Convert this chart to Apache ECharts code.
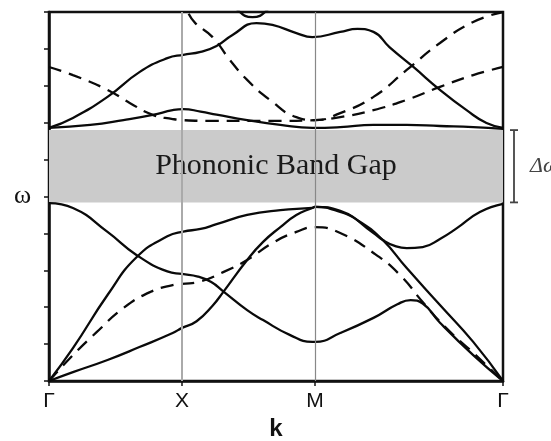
<!DOCTYPE html>
<html>
<head>
<meta charset="utf-8">
<script src="https://cdn.jsdelivr.net/npm/echarts@6/dist/echarts.min.js"></script>
<style>html,body{margin:0;padding:0;background:#fff}#c{width:551px;height:441px}</style>
</head>
<body>
<div id="c"></div>
<script>
// ---- data ----
const kTicks = [0, 1, 2, 3.414];
const kLabels = ['Γ', 'X', 'M', 'Γ'];
const gapLow = 4.84;
const gapHigh = 6.8;
const gapText = 'Phononic Band Gap';

// solid bands [k, omega]
const bandA = [[0,0],[0.18,0.24],[0.44,0.57],[0.68,0.92],[0.93,1.30],[1.0,1.44],[1.11,1.62],[1.23,2.04],[1.31,2.41],[1.49,3.28],[1.61,3.77],[1.74,4.17],[1.86,4.50],[1.98,4.69],[2.0,4.72],[2.19,4.58],[2.34,4.31],[2.51,3.82],[2.69,3.06],[2.94,2.06],[3.19,1.06],[3.414,0]];
const bandC = [[0,0],[0.18,0.89],[0.44,2.33],[0.66,3.36],[0.89,3.92],[1.01,4.05],[1.14,4.12],[1.26,4.25],[1.49,4.50],[1.74,4.63],[1.98,4.69],[2.0,4.72],[2.19,4.61],[2.44,4.01],[2.51,3.82],[2.60,3.66],[2.69,3.60],[2.81,3.63],[2.94,3.85],[3.07,4.15],[3.24,4.58],[3.414,4.80]];
const bandD = [[0,4.82],[0.18,4.69],[0.44,4.04],[0.66,3.41],[0.89,2.97],[1.0,2.90],[1.12,2.83],[1.22,2.68],[1.31,2.43],[1.49,1.92],[1.61,1.65],[1.81,1.25],[1.98,1.06],[2.0,1.06],[2.19,1.30],[2.44,1.71],[2.62,2.08],[2.72,2.19],[2.81,2.10],[2.94,1.58],[3.19,0.70],[3.414,0]];
const bandF = [[0,6.86],[0.18,7.13],[0.44,7.70],[0.68,8.37],[0.89,8.75],[1.01,8.84],[1.14,8.92],[1.26,9.08],[1.38,9.38],[1.56,9.70],[1.68,9.65],[1.86,9.43],[1.98,9.32],[2.19,9.46],[2.32,9.54],[2.44,9.46],[2.56,9.05],[2.74,8.51],[2.94,7.89],[3.14,7.34],[3.29,6.99],[3.414,6.86]];
const bandG = [[0,6.86],[0.31,6.94],[0.56,7.07],[0.78,7.21],[0.93,7.34],[1.01,7.37],[1.14,7.30],[1.26,7.22],[1.49,7.07],[1.74,6.94],[1.98,6.86],[2.19,6.88],[2.44,6.94],[2.69,6.94],[2.94,6.91],[3.19,6.88],[3.414,6.83]];
const bandTop = [[1.30,10.6],[1.42,10.05],[1.53,9.86],[1.64,10.05],[1.76,10.6]];
// dashed bands
const dashE = [[0,0],[0.18,0.70],[0.36,1.33],[0.56,1.98],[0.76,2.41],[0.93,2.60],[1.0,2.63],[1.14,2.70],[1.31,2.95],[1.49,3.28],[1.68,3.74],[1.86,4.04],[2.0,4.17],[2.19,4.01],[2.44,3.47],[2.64,2.87],[2.81,2.14],[2.98,1.46],[3.20,0.73],[3.414,0]];
const dashH = [[0,8.51],[0.18,8.29],[0.44,7.89],[0.61,7.53],[0.78,7.21],[0.93,7.10],[1.0,7.07],[1.23,7.05],[1.74,7.05],[2.0,7.07],[2.19,7.15],[2.44,7.34],[2.69,7.62],[2.94,7.97],[3.19,8.29],[3.414,8.51]];
const dashI = [[1.05,9.95],[1.10,9.70],[1.23,9.32],[1.36,8.70],[1.49,8.16],[1.66,7.62],[1.86,7.15],[2.0,7.07],[2.19,7.26],[2.44,7.70],[2.69,8.43],[2.94,9.16],[3.19,9.73],[3.414,10.0]];

const solidBands = [bandA, bandC, bandD, bandF, bandG, bandTop];
const dashedBands = [dashE, dashH, dashI];

// ---- chart ----
const chart = echarts.init(document.getElementById('c'), null, {renderer: 'canvas'});
const series = [];
series.push({
  type: 'line', data: [], silent: true,
  markArea: {
    silent: true,
    itemStyle: {color: '#cbcbcb'},
    label: {show: true, position: 'inside', color: '#1a1a1a', fontFamily: 'Liberation Serif', fontSize: 30},
    data: [[{yAxis: gapLow, xAxis: kTicks[0], name: gapText}, {yAxis: gapHigh, xAxis: kTicks[3]}]]
  },
  markLine: {
    silent: true, symbol: 'none', label: {show: false},
    data: [
      {xAxis: kTicks[1], lineStyle: {color: '#aaaaaa', width: 2, type: 'solid'}},
      {xAxis: kTicks[2], lineStyle: {color: '#888888', width: 1.2, type: 'solid'}}
    ]
  }
});
solidBands.forEach(d => series.push({
  type: 'line', data: d, smooth: 0.5, symbol: 'none', clip: true,
  lineStyle: {color: '#0a0a0a', width: 2.3}
}));
dashedBands.forEach(d => series.push({
  type: 'line', data: d, smooth: 0.5, symbol: 'none', clip: true,
  lineStyle: {color: '#0a0a0a', width: 2.3, type: [13, 8]}
}));

chart.setOption({
  animation: false,
  grid: {left: 49, right: 48, top: 12, bottom: 60, containLabel: false, outerBoundsMode: 'none', show: true, borderColor: '#111', borderWidth: 2.5, backgroundColor: 'transparent'},
  xAxis: {
    type: 'value', min: kTicks[0], max: kTicks[3],
    name: 'k', nameLocation: 'middle', nameGap: 36,
    nameTextStyle: {fontFamily: 'Liberation Sans', fontWeight: 'bold', fontSize: 24, color: '#111'},
    axisLine: {show: true, onZero: false, lineStyle: {color: '#111', width: 2.5}},
    axisTick: {show: true, customValues: kTicks, length: 5, lineStyle: {color: '#111', width: 1.5}},
    axisLabel: {show: true, customValues: kTicks, margin: 10, fontFamily: 'Liberation Sans', fontSize: 21, color: '#111',
      formatter: v => { const i = kTicks.findIndex(t => Math.abs(t - v) < 1e-6); return i >= 0 ? kLabels[i] : ''; }},
    splitLine: {show: false}
  },
  yAxis: {
    type: 'value', min: 0, max: 10, interval: 1,
    name: 'ω', nameLocation: 'middle', nameRotate: 0, nameGap: 18,
    nameTextStyle: {fontFamily: 'Liberation Serif', fontSize: 26, color: '#111'},
    axisLine: {show: true, lineStyle: {color: '#111', width: 2.5}},
    axisTick: {show: true, inside: false, length: 5, lineStyle: {color: '#111', width: 1.5}},
    axisLabel: {show: false},
    splitLine: {show: false}
  },
  series: series
});

const pTop = chart.convertToPixel({gridIndex: 0}, [kTicks[3], gapHigh]);
const pBot = chart.convertToPixel({gridIndex: 0}, [kTicks[3], gapLow]);
const bx = pTop[0] + 11;
chart.setOption({
  graphic: [
    {type: 'line', shape: {x1: bx, y1: pTop[1], x2: bx, y2: pBot[1]}, style: {stroke: '#444', lineWidth: 1.8}, silent: true},
    {type: 'line', shape: {x1: bx - 4, y1: pTop[1], x2: bx + 4, y2: pTop[1]}, style: {stroke: '#444', lineWidth: 1.8}, silent: true},
    {type: 'line', shape: {x1: bx - 4, y1: pBot[1], x2: bx + 4, y2: pBot[1]}, style: {stroke: '#444', lineWidth: 1.8}, silent: true},
    {type: 'text', x: bx + 16, y: (pTop[1] + pBot[1]) / 2, style: {text: 'Δω', fontFamily: 'Liberation Serif', fontStyle: 'italic', fontSize: 22, fill: '#444', verticalAlign: 'middle', align: 'left'}, silent: true}
  ]
});
</script>
</body>
</html>
